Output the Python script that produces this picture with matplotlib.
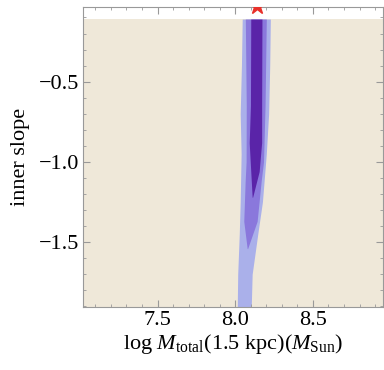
import matplotlib
matplotlib.use("Agg")
import matplotlib.pyplot as plt

plt.rcParams['font.family'] = ['Liberation Serif', 'DejaVu Serif']
plt.rcParams['mathtext.fontset'] = 'custom'
plt.rcParams['mathtext.rm'] = 'Liberation Serif'
plt.rcParams['mathtext.it'] = 'Liberation Serif:italic'

# contour edges: inner slope vs left / right log M edge
light_y = [-0.11, -0.40, -0.70, -0.95, -1.25, -1.45, -1.70, -1.91]
light_left = [8.045, 8.040, 8.032, 8.038, 8.032, 8.026, 8.016, 8.013]
light_right = [8.226, 8.222, 8.215, 8.200, 8.175, 8.145, 8.109, 8.103]

mid_y = [-0.11, -0.65, -1.00, -1.12, -1.37, -1.54]
mid_left = [8.065, 8.071, 8.070, 8.064, 8.055, 8.077]
mid_right = [8.200, 8.192, 8.182, 8.167, 8.141, 8.080]

dark_y = [-0.11, -0.65, -0.88, -1.06, -1.22]
dark_left = [8.100, 8.098, 8.090, 8.100, 8.109]
dark_right = [8.172, 8.170, 8.170, 8.154, 8.112]

prior_range = [-1.91, -0.11]
true_mass = 8.14
true_slope = -0.03

fig = plt.figure(figsize=(3.84, 3.70), dpi=100)
ax = fig.add_axes([0.216, 0.170, 0.781, 0.811])

ax.axhspan(prior_range[0], prior_range[1], color='#efe8d9', lw=0, zorder=0)
ax.fill_betweenx(light_y, light_left, light_right, color='#aab0ea', lw=0, zorder=1)
ax.fill_betweenx(mid_y, mid_left, mid_right, color='#8a78dc', lw=0, zorder=2)
ax.fill_betweenx(dark_y, dark_left, dark_right, color='#5a24a8', lw=0, zorder=3)
ax.plot([true_mass], [true_slope], marker='*', color='#e8302a', ms=12,
        mec='#e8302a', zorder=5)

ax.set_xlim(7.02, 8.95)
ax.set_ylim(-1.905, -0.035)
ax.set_xticks([7.5, 8.0, 8.5])
ax.set_yticks([-1.5, -1.0, -0.5])
ax.set_xticks([x / 10 for x in range(71, 90)], minor=True)
ax.set_yticks([-y / 10 for y in range(1, 20)], minor=True)
ax.tick_params(which='both', direction='in', top=True, right=True,
               color='#999999', labelsize=16, pad=3)
ax.tick_params(which='major', length=5, width=0.8)
ax.tick_params(which='minor', length=2.5, width=0.6)
ax.set_yticklabels(['\u22121.5', '\u22121.0', '\u22120.5'])
for s in ax.spines.values():
    s.set_color('#999999')
    s.set_linewidth(0.8)

ax.set_xlabel(r'log $M_{\rm total}$(1.5 kpc)($M_{\rm Sun}$)', fontsize=16, labelpad=1)
ax.set_ylabel('inner slope', fontsize=16, labelpad=6)

fig.savefig('out.png', dpi=100)
